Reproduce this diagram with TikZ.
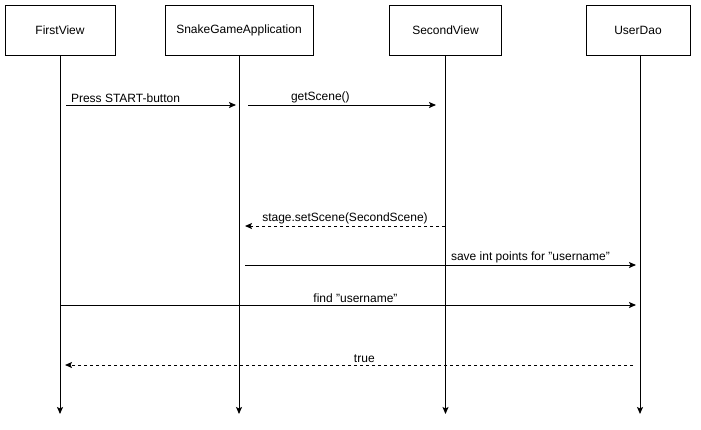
\documentclass[tikz,border=0pt]{standalone}
\usepackage{fontspec}
\setmainfont{Liberation Sans}
\usetikzlibrary{arrows.meta}
\tikzset{
  lane/.style={draw, line width=1pt, minimum width=110pt, minimum height=50pt, inner sep=0pt},
  life/.style={line width=1pt, -{Stealth[length=7pt,width=6pt,inset=1.5pt]}},
  msg/.style={line width=1pt, -{Stealth[length=7pt,width=6pt,inset=1.5pt]}},
  reply/.style={msg, dash pattern=on 3pt off 3pt},
  lbl/.style={above, inner sep=2pt}
}
\begin{document}
\begin{tikzpicture}[x=1pt,y=-1pt, font=\fontsize{12}{14}\selectfont]
    \useasboundingbox (0,0) rectangle (701,429);
    % participants
    \node[lane] (fv) at (60,30) {FirstView};
    \node[lane, minimum width=148pt] (sga) at (239,30) {SnakeGameApplication};
    \node[lane, minimum width=112pt] (sv) at (445.5,30) {SecondView};
    \node[lane, minimum width=104pt] (ud) at (638,30) {UserDao};
    % lifelines
    \foreach \p in {fv,sga,sv}{%
        \coordinate (\p end) at (\p.south |- 0,414);
        \draw[life] (\p.south) -- (\p end);
    }
    \coordinate (udtop) at ([xshift=2pt]ud.south);
    \coordinate (udend) at (udtop |- 0,414);
    \draw[life] (udtop) -- (udend);
    % message ends
    \coordinate (m1a) at (66,105);  \coordinate (m1b) at (236,105);
    \coordinate (m2a) at (248,105); \coordinate (m2b) at (436,105);
    \coordinate (m3a) at (445,226); \coordinate (m3b) at (245,226);
    \coordinate (m4a) at (245,265); \coordinate (m4b) at (636,265);
    \coordinate (m5a) at (60,305);  \coordinate (m5b) at (636,305);
    \coordinate (m6a) at (633,365); \coordinate (m6b) at (65,365);
    % messages
    \draw[msg] (m1a) -- (m1b) node[lbl, pos=0.35] {Press START-button};
    \draw[msg] (m2a) -- (m2b) node[lbl, pos=0.385] {getScene()};
    \draw[reply] (m3a) -- (m3b) node[lbl, pos=0.5] {stage.setScene(SecondScene)};
    \draw[msg] (m4a) -- (m4b) node[lbl, pos=0.73] {save int points for "username"};
    \draw[msg] (m5a) -- (m5b) node[lbl, pos=0.513] {find "username"};
    \draw[reply] (m6a) -- (m6b) node[lbl, pos=0.473] {true};
\end{tikzpicture}
\end{document}
